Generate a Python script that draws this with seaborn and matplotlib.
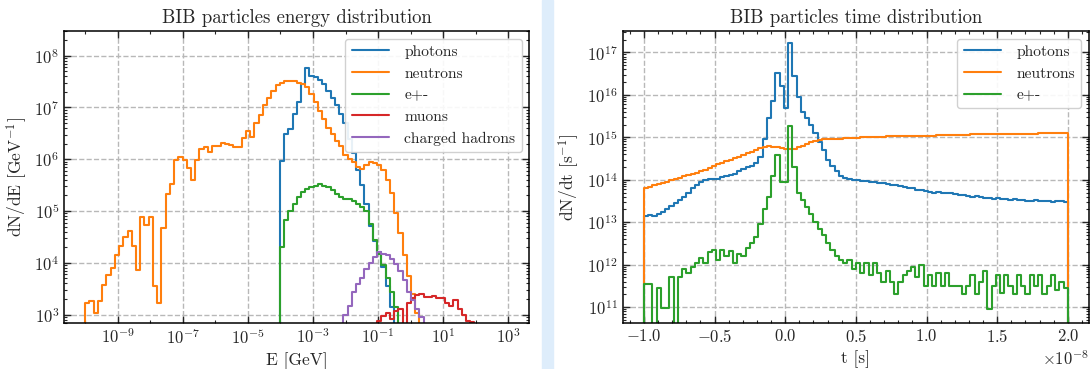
import numpy as np
import matplotlib
matplotlib.use("Agg")
import matplotlib.pyplot as plt
from matplotlib.patches import Rectangle
from matplotlib.ticker import AutoMinorLocator, FixedLocator, LogLocator, NullFormatter
import seaborn as sns

# ---------------- energy distribution (100 log bins, 1e-10 .. 1e3 GeV) ----------------
n_e_bins = 100
e_low, e_high = -10, 3

neutrons_e_start = 0
neutrons_e = [1.7e3, 1.8e3, 1.1e3, 1.8e3, 3.8e3, 5.9e3, 7.9e3, 1.4e4, 2.1e4, 3.2e4,
              4.2e4, 2.1e4, 7.4e3, 7.8e4, 5.4e4, 7.6e4, 3.6e3, 1.7e3, 4.7e4, 2.1e5,
              3.3e5, 9.8e5, 1.1e6, 9.8e5, 6.8e5, 3.9e5, 9.8e5, 1.6e6, 1.7e6, 1.4e6,
              1.8e6, 1.8e6, 2.1e6, 2.0e6, 1.9e6, 1.7e6, 1.7e6, 2.6e6, 3.5e6, 2.7e6,
              5.1e6, 7.2e6, 1.1e7, 1.5e7, 2.1e7, 2.7e7, 3.0e7, 3.2e7, 3.2e7, 3.2e7,
              3.0e7, 2.9e7, 2.5e7, 1.8e7, 1.3e7, 8.7e6, 6.0e6, 4.1e6, 3.1e6, 2.3e6,
              1.8e6, 1.2e6, 1.0e6, 8.7e5, 7.2e5, 6.6e5, 7.9e5, 8.7e5, 8.5e5, 7.6e5,
              6.3e5, 4.0e5, 2.2e5, 9.3e4, 3.8e4, 1.4e4, 5.6e3, 2.5e3, 1.1e3]

photons_e_start = 46
photons_e = [9.3e5, 3.1e6, 3.8e6, 7.4e6, 1.3e7, 2.8e7, 5.9e7, 4.1e7, 3.9e7, 3.4e7,
             2.8e7, 2.1e7, 1.5e7, 1.1e7, 7.4e6, 5.1e6, 2.5e6, 1.3e6, 6.3e5, 3.2e5,
             1.4e5, 5.2e4, 2.6e4, 1.6e4, 8.3e3, 3.5e3, 1.4e3]

electrons_e_start = 46
electrons_e = [2.0e4, 6.6e4, 1.0e5, 1.4e5, 1.9e5, 2.3e5, 2.7e5, 2.9e5, 3.1e5, 3.3e5,
               3.1e5, 2.9e5, 2.5e5, 2.1e5, 1.9e5, 1.7e5, 1.7e5, 1.6e5, 1.4e5, 1.2e5,
               1.0e5, 5.6e4, 2.8e4, 1.5e4, 8.9e3, 5.2e3, 2.8e3, 1.4e3]

muons_e_start = 69
muons_e = [7.6e2, 9.5e2, 1.1e3, 8.3e2, 1.2e3, 1.3e3, 0.0, 1.7e3, 2.1e3, 2.4e3,
           2.5e3, 2.2e3, 2.2e3, 2.3e3, 2.1e3, 2.1e3, 1.7e3, 1.5e3, 1.9e3, 1.3e3,
           1.0e3, 7.6e2, 7.1e2]

hadrons_e_start = 61
hadrons_e = [1.0e3, 1.5e3, 2.7e3, 3.9e3, 5.2e3, 7.6e3, 1.0e4, 1.3e4, 1.6e4, 1.5e4,
             1.4e4, 1.2e4, 9.5e3, 7.1e3, 4.6e3, 2.7e3, 1.9e3, 1.3e3, 8.9e2]

e_major_ticks = [1e-9, 1e-7, 1e-5, 1e-3, 1e-1, 1e1, 1e3]
e_minor_ticks = [1e-10, 1e-8, 1e-6, 1e-4, 1e-2, 1e0, 1e2]
e_y_ticks = [1e3, 1e4, 1e5, 1e6, 1e7, 1e8]

# ---------------- time distribution (100 bins, -1e-8 .. 2e-8 s) ----------------
n_t_bins = 100
t_low, t_high = -1e-8, 2e-8

photons_t = [1.4e13, 1.5e13, 1.4e13, 1.6e13, 1.7e13, 2.0e13, 2.4e13, 2.8e13, 3.3e13, 4.0e13,
             5.0e13, 6.3e13, 7.6e13, 8.9e13, 1.0e14, 1.05e14, 1.07e14, 1.05e14, 1.15e14, 1.26e14,
             1.3e14, 1.4e14, 1.6e14, 1.8e14, 2.0e14, 2.1e14, 2.5e14, 3.5e14, 8.9e14, 2.8e15,
             7.1e15, 3.3e16, 1.6e16, 4.8e15, 1.7e17, 2.8e16, 8.9e15, 4.0e15, 2.8e15, 2.0e15,
             1.26e15, 7.9e14, 5.0e14, 3.0e14, 2.1e14, 1.6e14, 1.26e14, 1.12e14, 1.05e14, 1.0e14,
             1.0e14, 9.5e13, 9.3e13, 9.1e13, 8.7e13, 8.5e13, 8.3e13, 7.9e13, 7.6e13, 7.4e13,
             7.1e13, 6.8e13, 6.5e13, 6.3e13, 5.9e13, 5.8e13, 5.5e13, 5.2e13, 5.0e13, 5.1e13,
             4.9e13, 4.8e13, 4.8e13, 4.6e13, 4.4e13, 4.5e13, 4.2e13, 4.0e13, 4.1e13, 3.9e13,
             3.7e13, 3.8e13, 3.6e13, 3.7e13, 3.5e13, 3.5e13, 3.4e13, 3.5e13, 3.3e13, 3.4e13,
             3.2e13, 3.2e13, 3.3e13, 3.2e13, 3.1e13, 3.2e13, 3.0e13, 3.2e13, 3.1e13, 3.0e13]

neutrons_t = [6.3e13, 6.9e13, 7.4e13, 7.9e13, 8.5e13, 9.1e13, 9.8e13, 1.05e14, 1.12e14, 1.2e14,
              1.29e14, 1.38e14, 1.48e14, 1.58e14, 1.74e14, 1.9e14, 2.1e14, 2.3e14, 2.5e14, 2.7e14,
              2.95e14, 3.2e14, 3.5e14, 3.8e14, 4.2e14, 4.6e14, 5.0e14, 5.5e14, 6.0e14, 6.2e14,
              6.0e14, 5.8e14, 5.6e14, 5.4e14, 5.2e14, 5.4e14, 5.8e14, 6.3e14, 6.9e14, 7.6e14,
              8.1e14, 8.5e14, 8.9e14, 9.1e14, 9.1e14, 9.3e14, 9.3e14, 9.5e14, 9.5e14, 9.5e14,
              9.8e14, 1.0e15, 1.0e15, 1.0e15, 1.02e15, 1.02e15, 1.02e15, 1.05e15, 1.05e15, 1.05e15,
              1.05e15, 1.07e15, 1.07e15, 1.07e15, 1.07e15, 1.1e15, 1.1e15, 1.1e15, 1.1e15, 1.12e15,
              1.12e15, 1.12e15, 1.12e15, 1.15e15, 1.15e15, 1.15e15, 1.15e15, 1.17e15, 1.17e15, 1.17e15,
              1.17e15, 1.17e15, 1.2e15, 1.2e15, 1.2e15, 1.2e15, 1.2e15, 1.23e15, 1.23e15, 1.23e15,
              1.23e15, 1.23e15, 1.23e15, 1.26e15, 1.26e15, 1.26e15, 1.26e15, 1.26e15, 1.26e15, 1.26e15]

electrons_t = [3.6e11, 3.6e11, 0.0, 2.8e11, 9.3e10, 9.3e10, 5.2e11, 0.0, 5.2e11, 8.1e11,
               6.3e11, 8.9e11, 1.07e12, 1.4e12, 1.1e12, 2.0e12, 2.2e12, 1.26e12, 2.2e12, 1.6e12,
               2.1e12, 1.1e12, 1.8e12, 1.6e12, 2.5e12, 3.2e12, 4.5e12, 8.9e12, 2.0e13, 4.0e13,
               1.26e14, 3.9e14, 9.1e13, 9.1e13, 1.9e15, 2.0e14, 4.8e13, 3.4e13, 2.3e13, 1.6e13,
               1.0e13, 7.1e12, 5.0e12, 3.2e12, 2.2e12, 1.6e12, 1.26e12, 1.1e12, 1.26e12, 7.9e11,
               1.1e12, 6.3e11, 1.1e12, 5.6e11, 1.1e12, 6.3e11, 4.0e11, 7.1e11, 4.0e11, 2.0e11,
               4.0e11, 5.6e11, 7.1e11, 8.9e11, 5.0e11, 1.0e12, 3.2e11, 5.6e11, 3.2e11, 6.3e11,
               3.2e11, 6.3e11, 3.2e11, 3.2e11, 3.2e11, 2.0e11, 3.2e11, 5.6e11, 2.0e11, 4.0e11,
               7.1e11, 8.9e10, 3.2e11, 5.6e11, 2.2e11, 5.6e11, 3.2e11, 2.0e11, 5.6e11, 3.2e11,
               2.0e11, 5.6e11, 3.2e11, 5.6e11, 2.0e11, 3.2e11, 5.6e11, 2.5e11, 4.0e11, 2.8e11]

t_major_ticks = [-1.0e-8, -0.5e-8, 0.0, 0.5e-8, 1.0e-8, 1.5e-8, 2.0e-8]
t_y_ticks = [1e11, 1e12, 1e13, 1e14, 1e15, 1e16, 1e17]

colors = {"photons": "#1f77b4", "neutrons": "#ff7f0e", "e+-": "#2ca02c",
          "muons": "#d62728", "charged hadrons": "#9467bd"}


def full_bins(start, vals, n):
    out = np.zeros(n)
    out[start:start + len(vals)] = vals
    return out


def stairs(ax, edges, vals, label):
    # histogram outline (step) that drops to the baseline at both ends
    x = np.r_[edges[0], edges]
    y = np.r_[0.0, vals, 0.0]
    sns.lineplot(x=x, y=y, ax=ax, drawstyle="steps-post", estimator=None, sort=False,
                 color=colors[label], lw=1.5, label=label)


sns.set_style("ticks")
plt.rcParams.update({
    "font.family": "serif",
    "font.serif": ["cmr10", "DejaVu Serif"],
    "mathtext.fontset": "cm",
    "axes.formatter.use_mathtext": True,
    "axes.unicode_minus": True,
    "xtick.direction": "in",
    "ytick.direction": "in",
    "xtick.top": True,
    "ytick.right": True,
    "axes.linewidth": 1.1,
    "axes.edgecolor": "black",
})

fig = plt.figure(figsize=(10.91, 3.69), dpi=100)
fig.patches.append(Rectangle((0.4965, 0), 0.0103, 1, transform=fig.transFigure,
                             color="#deedfb", zorder=0))

ax1 = fig.add_axes([0.0587, 0.1255, 0.4266, 0.7905])
ax2 = fig.add_axes([0.5708, 0.1255, 0.4274, 0.7905])

# energy panel
e_edges = np.logspace(e_low, e_high, n_e_bins + 1)
stairs(ax1, e_edges, full_bins(photons_e_start, photons_e, n_e_bins), "photons")
stairs(ax1, e_edges, full_bins(neutrons_e_start, neutrons_e, n_e_bins), "neutrons")
stairs(ax1, e_edges, full_bins(electrons_e_start, electrons_e, n_e_bins), "e+-")
stairs(ax1, e_edges, full_bins(muons_e_start, muons_e, n_e_bins), "muons")
stairs(ax1, e_edges, full_bins(hadrons_e_start, hadrons_e, n_e_bins), "charged hadrons")
ax1.set_xscale("log")
ax1.set_yscale("log")
ax1.set_xlim(10 ** -10.65, 10 ** 3.65)
ax1.set_ylim(7e2, 3e8)
ax1.set_xticks(e_major_ticks)
ax1.xaxis.set_minor_locator(FixedLocator(e_minor_ticks))
ax1.set_yticks(e_y_ticks)
ax1.set_title("BIB particles energy distribution", fontsize=13.5)
ax1.set_xlabel("E [GeV]", fontsize=12.5)
ax1.set_ylabel(r"dN/dE [GeV$^{-1}$]", fontsize=12.5)

# time panel
t_edges = np.linspace(t_low, t_high, n_t_bins + 1)
stairs(ax2, t_edges, np.array(photons_t), "photons")
stairs(ax2, t_edges, np.array(neutrons_t), "neutrons")
stairs(ax2, t_edges, np.array(electrons_t), "e+-")
ax2.set_yscale("log")
ax2.set_xlim(-1.15e-8, 2.15e-8)
ax2.set_ylim(4.3e10, 3.2e17)
ax2.set_xticks(t_major_ticks)
ax2.xaxis.set_minor_locator(AutoMinorLocator(5))
ax2.set_yticks(t_y_ticks)
ax2.set_title("BIB particles time distribution", fontsize=13.5)
ax2.set_xlabel("t [s]", fontsize=12.5)
ax2.set_ylabel(r"dN/dt [s$^{-1}$]", fontsize=12.5)

for ax in (ax1, ax2):
    ax.yaxis.set_minor_locator(LogLocator(base=10, subs=np.arange(2, 10), numticks=100))
    ax.yaxis.set_minor_formatter(NullFormatter())
    ax.xaxis.set_minor_formatter(NullFormatter())
    ax.grid(True, which="major", ls="--", color="0.72", lw=1.0)
    ax.tick_params(which="major", length=5, width=1, labelsize=12)
    ax.tick_params(which="minor", length=2.5, width=0.8)
    ax.xaxis.get_offset_text().set_fontsize(12)
    ax.legend(loc="upper right", fontsize=11.2, framealpha=0.9, edgecolor="0.8",
              handlelength=2.4, handletextpad=1.0)

fig.savefig("out.png", dpi=100)
